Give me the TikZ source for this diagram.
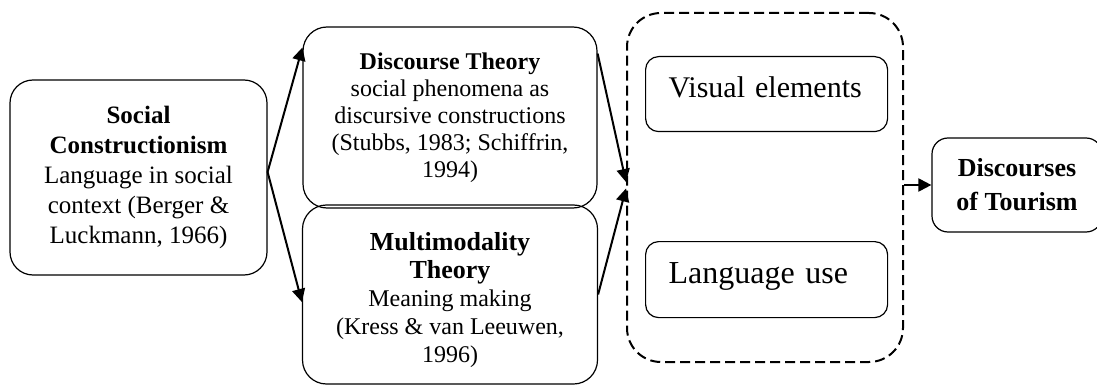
\documentclass[tikz,border=0pt]{standalone}
\usepackage{fontspec}
\setmainfont{Liberation Serif}
\usetikzlibrary{positioning,arrows.meta,calc}

\begin{document}
\begin{tikzpicture}[
  x=0.5pt, y=-0.5pt,
  box/.style={
    draw, line width=0.6pt, align=center, inner sep=2pt
  },
  itembox/.style={
    draw, line width=0.6pt, rounded corners=6.5pt, anchor=north west,
    align=left, text width=98pt, inner xsep=11.5pt, inner ysep=3pt
  },
  flow/.style={
    line width=1pt, -{Triangle[length=6.5pt,width=6.5pt]}
  }
]

% Page
\useasboundingbox (0,0) rectangle (1097,385);

% Left column
\node[box, rounded corners=11.5pt, minimum width=128.5pt, minimum height=97.5pt,
      font=\fontsize{12.5}{15}\selectfont] (social) at (138.5,177.5)
  {\textbf{Social}\\\textbf{Constructionism}\\Language in social\\context (Berger \&\\Luckmann, 1966)};

% Theories
\node[box, rounded corners=12pt, minimum width=147pt, minimum height=90.5pt,
      font=\fontsize{12}{13.5}\selectfont] (discourse) at (450,117.5)
  {\textbf{Discourse Theory}\\social phenomena as\\discursive constructions\\(Stubbs, 1983; Schiffrin,\\1994)};
\node[box, rounded corners=12pt, minimum width=147.5pt, minimum height=89.5pt,
      font=\fontsize{12}{14}\selectfont] (multi) at (450,294.5)
  {\rule{0pt}{15pt}\textbf{\fontsize{13}{15.5}\selectfont Multimodality}\\\textbf{\fontsize{13}{15.5}\selectfont Theory}\\Meaning making\\(Kress \& van Leeuwen,\\1996)};

% Dashed group
\node[draw, dashed, dash pattern=on 5pt off 2.5pt, line width=1pt, rounded corners=17pt,
      minimum width=138pt, minimum height=174.5pt] (group) at (765,187.5) {};
\node[itembox, text height=17.5pt, text depth=14pt, font=\fontsize{15}{18}\selectfont]
  (visual) at (645,56) {Visual elements};
\node[itembox, text height=18pt, text depth=14pt, font=\fontsize{16}{19}\selectfont]
  (language) at (645,241) {Language use};

% Result
\node[box, rounded corners=8pt, minimum width=85pt, minimum height=47pt,
      font=\bfseries\fontsize{13}{17}\selectfont] (tourism) at (1017,185)
  {Discourses\\of Tourism};

% Arrows
\draw[flow] ([yshift=2.75pt]social.east) -- ([yshift=35pt]discourse.west);
\draw[flow] ([yshift=2.75pt]social.east) -- ([yshift=-3.75pt]multi.west);
\draw[flow] ([yshift=32pt]discourse.east) -- ([yshift=2.75pt]group.west);
\draw[flow] (multi.east) -- ([yshift=-0.5pt]group.west);
\draw[flow] (group.east |- tourism.west) -- (tourism.west);

\end{tikzpicture}
\end{document}
